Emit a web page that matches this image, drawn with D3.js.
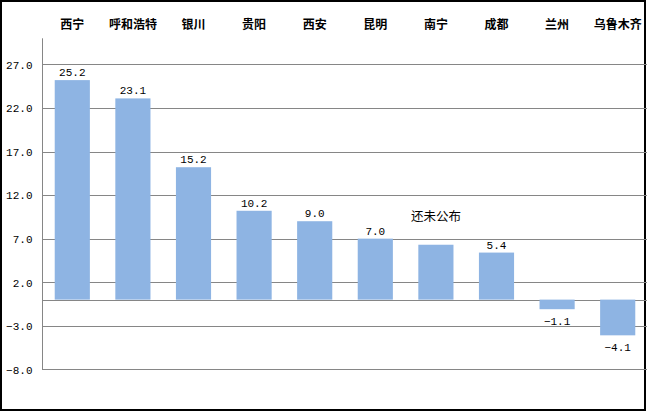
<!DOCTYPE html>
<html><head><meta charset="utf-8">
<script src="https://cdn.jsdelivr.net/npm/d3@7"></script>
<style>body{margin:0;background:#fff}</style>
</head><body>
<svg id="c" width="652" height="412"></svg>
<script>
const categories = ["西宁","呼和浩特","银川","贵阳","西安","昆明","南宁","成都","兰州","乌鲁木齐"];
const values = [25.2, 23.1, 15.2, 10.2, 9.0, 7.0, 6.3, 5.4, -1.1, -4.1];
const showLabel = [true, true, true, true, true, true, false, true, true, true];
const notes = ["", "", "", "", "", "", "还未公布", "", "", ""];
const yTicks = [-8, -3, 2, 7, 12, 17, 22, 27];
const yDomain = [-8, 30];

const svg = d3.select("#c");
const x = d3.scaleBand().domain(categories).range([42, 648]).paddingInner(0.42).paddingOuter(0.21);
const y = d3.scaleLinear().domain(yDomain).range([369.3, 38.3]);

// border
svg.append("rect").attr("x",1).attr("y",1).attr("width",644).attr("height",409)
  .attr("fill","none").attr("stroke","#000").attr("stroke-width",2);

// gridlines
svg.append("g").selectAll("line").data(yTicks.concat([0])).join("line")
  .attr("x1",42).attr("x2",647)
  .attr("y1",d=>Math.round(y(d))+0.5).attr("y2",d=>Math.round(y(d))+0.5)
  .attr("stroke","#868686").attr("stroke-width",1);

// y axis
const yAxis = d3.axisLeft(y).tickValues(yTicks).tickSize(0).tickPadding(10).tickFormat(d3.format(".1f"));
const ga = svg.append("g").attr("transform","translate(42.5,0)").call(yAxis);
ga.select(".domain").attr("stroke","#868686").attr("d","M0,"+y(yDomain[1])+"V"+y(yDomain[0]));
ga.selectAll("text").attr("font-family","Liberation Mono, monospace").attr("font-size",11).attr("fill","#000")
  .attr("dy","0.35em");

// bars
svg.append("g").selectAll("rect").data(values).join("rect")
  .attr("x",(d,i)=>x(categories[i]))
  .attr("width",x.bandwidth())
  .attr("y",d=>y(Math.max(0,d)))
  .attr("height",d=>Math.abs(y(d)-y(0)))
  .attr("fill","#8EB4E3");

// value labels
svg.append("g").selectAll("text").data(values.map((v,i)=>({v,i})).filter(d=>showLabel[d.i])).join("text")
  .attr("x",d=>x(categories[d.i])+x.bandwidth()/2)
  .attr("y",d=>d.v>=0 ? y(d.v)-4 : y(d.v)+16)
  .attr("text-anchor","middle")
  .attr("font-family","Liberation Mono, monospace").attr("font-size",11).attr("fill","#000")
  .text(d=>d3.format(".1f")(d.v));

// notes
svg.append("g").selectAll("text").data(notes.map((n,i)=>({n,i})).filter(d=>d.n)).join("text")
  .attr("x",d=>x(categories[d.i])+x.bandwidth()/2)
  .attr("y",d=>y(values[d.i])-24)
  .attr("text-anchor","middle")
  .attr("font-family","Noto Sans CJK SC").attr("font-size",12.5).attr("fill","#000")
  .text(d=>d.n);

// category labels on top
svg.append("g").selectAll("text").data(categories).join("text")
  .attr("x",d=>x(d)+x.bandwidth()/2)
  .attr("y",29)
  .attr("text-anchor","middle")
  .attr("font-family","Noto Sans CJK SC").attr("font-weight","bold").attr("font-size",12).attr("fill","#000")
  .text(d=>d);
</script>
</body></html>
